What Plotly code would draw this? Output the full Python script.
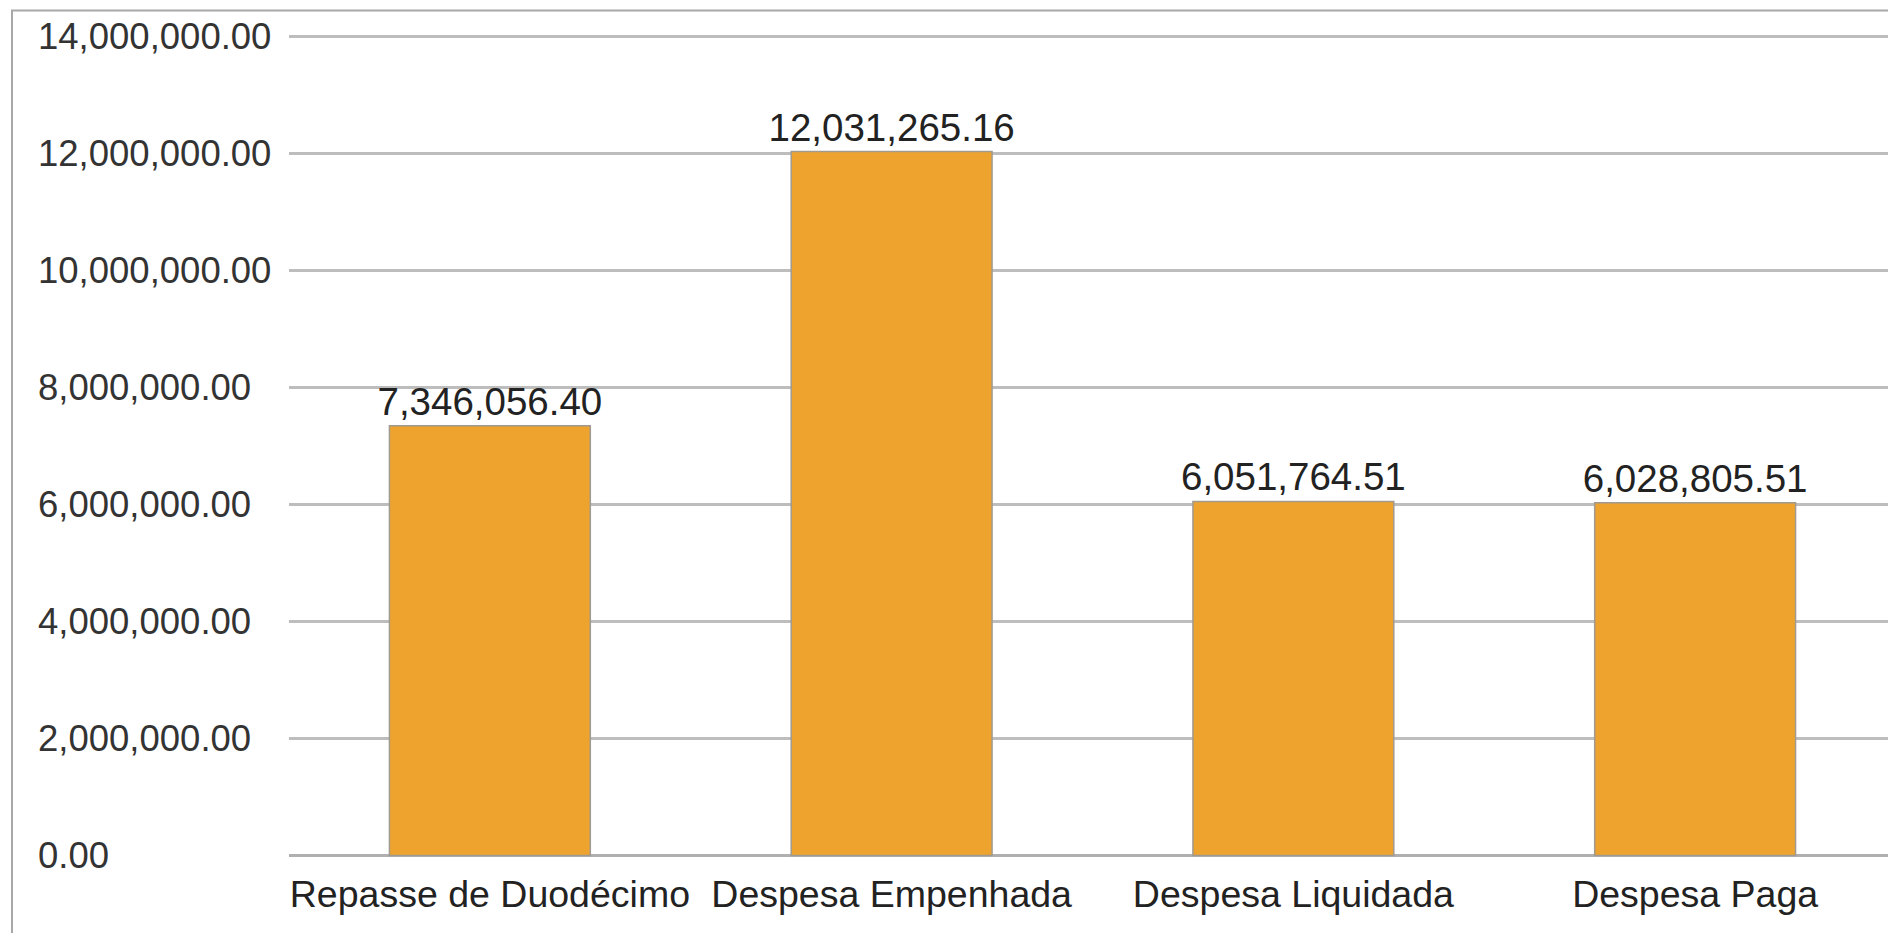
import plotly.graph_objects as go

categories = ["Repasse de Duodécimo", "Despesa Empenhada", "Despesa Liquidada", "Despesa Paga"]
values = [7346056.40, 12031265.16, 6051764.51, 6028805.51]
tick_values = [0, 2000000, 4000000, 6000000, 8000000, 10000000, 12000000, 14000000]
value_labels = [f"{v:,.2f}" for v in values]

# page has an 8px body margin, so the figure is drawn 8px smaller and offset
W, H = 1888, 925
PLOT_L = 281          # left edge of bar area (figure px)
Y_TOP_PX, Y0_PX = 28, 848   # pixel rows of 14M and 0
Y_MIN, Y_MAX = -400000, 14400000   # padding so the edge tick labels stay visible
px_per_unit = (Y0_PX - Y_TOP_PX) / 14000000
T = Y0_PX - px_per_unit * Y_MAX
bottom_px = Y0_PX - px_per_unit * Y_MIN
B = H - bottom_px

fig = go.Figure(
    go.Bar(
        x=categories,
        y=values,
        text=value_labels,
        textposition="outside",
        constraintext="none",
        textfont=dict(size=38.5, color="#222222", family="Liberation Sans, Arial"),
        marker=dict(color="#EEA32E", line=dict(color="#A09A90", width=1.5)),
        cliponaxis=False,
    )
)

fig.update_layout(
    width=W,
    height=H,
    margin=dict(l=0, r=0, t=T, b=B, autoexpand=False),
    paper_bgcolor="white",
    plot_bgcolor="white",
    bargap=0.5,
    showlegend=False,
    font=dict(family="Liberation Sans, Arial", color="#222222"),
)

fig.update_xaxes(
    domain=[PLOT_L / W, 1],
    tickfont=dict(size=37.5, color="#222222"),
    showgrid=False,
    showline=False,
    ticklabelstandoff=int(round(12 - (bottom_px - Y0_PX))),
    automargin=False,
)

fig.update_yaxes(
    range=[Y_MIN, Y_MAX],
    anchor="free",
    position=26 / W,
    ticklabelposition="inside",
    tickvals=tick_values,
    tickformat=",.2f",
    tickfont=dict(size=36.5, color="#333333"),
    showgrid=True,
    gridcolor="#BDBDBD",
    gridwidth=2.5,
    zeroline=True,
    zerolinecolor="#B0B0B0",
    zerolinewidth=2.5,
    showline=False,
    ticks="",
    automargin=False,
)

# outer frame (top and left borders of the chart container)
plot_h = H - T - B
fig.add_shape(
    type="rect",
    xref="paper", yref="paper",
    x0=4 / W, x1=1.2,
    y0=-0.2, y1=1 + (T - 2) / plot_h,
    line=dict(color="#A8A8A8", width=2),
    fillcolor="rgba(0,0,0,0)",
    layer="below",
)

fig.write_html("out.html")
